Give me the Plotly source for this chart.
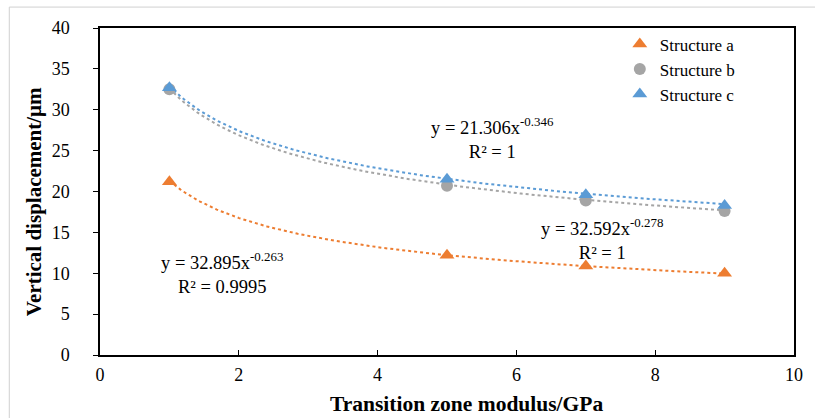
import numpy as np
import plotly.graph_objects as go

# Data
x_vals = [1, 5, 7, 9]
series_names = ["Structure a", "Structure b", "Structure c"]
struct_a = [21.2, 12.2, 10.9, 10.0]
struct_b = [32.5, 20.7, 18.9, 17.6]
struct_c = [32.7, 21.5, 19.6, 18.3]
# power-law trendline coefficients (y = A * x^B), as printed on chart
coef_a = [21.306, -0.346]
coef_b = [32.592, -0.278]
coef_c = [32.895, -0.263]
r2_a, r2_b, r2_c = "1", "1", "0.9995"

colors = {"a": "#ED7D31", "b": "#A5A5A5", "c": "#5B9BD5"}
FONT = "Liberation Serif"

fig = go.Figure()

xs = np.linspace(min(x_vals), max(x_vals), 200)
for coef, col in [(coef_b, colors["b"]), (coef_c, colors["c"]), (coef_a, colors["a"])]:
    fig.add_trace(go.Scatter(x=xs, y=coef[0] * xs ** coef[1], mode="lines",
                             line=dict(color=col, width=2, dash="dot"),
                             showlegend=False, hoverinfo="skip"))

fig.add_trace(go.Scatter(x=x_vals, y=struct_a, mode="markers", name=series_names[0],
                         marker=dict(symbol="triangle-up", size=13, color=colors["a"])))
fig.add_trace(go.Scatter(x=x_vals, y=struct_b, mode="markers", name=series_names[1],
                         marker=dict(symbol="circle", size=12, color=colors["b"])))
fig.add_trace(go.Scatter(x=x_vals, y=struct_c, mode="markers", name=series_names[2],
                         marker=dict(symbol="triangle-up", size=13, color=colors["c"])))

def eq(coef, r2):
    return f"y = {coef[0]:.3f}x<sup>{coef[1]}</sup><br>R² = {r2}"

ann_font = dict(family=FONT, size=18.5, color="black")
annotations = [
    dict(x=5.65, y=26.6, text=eq(coef_a, r2_a)),
    dict(x=7.24, y=14.15, text=eq(coef_b, r2_b)),
    dict(x=1.76, y=10.06, text=eq(coef_c, r2_c)),
]
for a in annotations:
    fig.add_annotation(x=a["x"], y=a["y"], text=a["text"], showarrow=False,
                       font=ann_font, align="center", xanchor="center", yanchor="middle")

# axis titles as annotations (positioned like the reference)
fig.add_annotation(x=-0.0948, y=0.468, xref="paper", yref="paper",
                   text="<b>Vertical displacement/μm</b>", textangle=-90, showarrow=False,
                   font=dict(family=FONT, size=21, color="black"),
                   xanchor="center", yanchor="middle")
fig.add_annotation(x=0.5287, y=-0.149, xref="paper", yref="paper",
                   text="<b>Transition zone modulus/GPa</b>", showarrow=False,
                   font=dict(family=FONT, size=21.5, color="black"),
                   xanchor="center", yanchor="middle")

# outer light gray frame (top and left edges visible)
fig.add_shape(type="line", xref="paper", yref="paper", x0=-0.1307, x1=1.1, y0=1.064, y1=1.064,
              line=dict(color="#D0D0D0", width=1))
fig.add_shape(type="line", xref="paper", yref="paper", x0=-0.1307, x1=-0.1307, y0=-0.25, y1=1.064,
              line=dict(color="#D0D0D0", width=1))

fig.update_layout(
    width=815, height=418,
    margin=dict(l=100, r=19, t=28, b=63),
    paper_bgcolor="white", plot_bgcolor="white",
    font=dict(family=FONT, size=17, color="black"),
    legend=dict(x=0.749, y=1.005, xanchor="left", yanchor="top",
                font=dict(family=FONT, size=17), bgcolor="rgba(0,0,0,0)",
                itemwidth=30, tracegroupgap=0),
    xaxis=dict(range=[0, 10], dtick=2, showgrid=False, zeroline=False,
               showline=True, linecolor="black", linewidth=1.5, mirror=True,
               ticks="inside", ticklen=5, tickcolor="black", ticklabelstandoff=3,
               tickfont=dict(family=FONT, size=18)),
    yaxis=dict(range=[0, 40], dtick=5, showgrid=False, zeroline=False,
               showline=True, linecolor="black", linewidth=1.5, mirror=True,
               ticks="outside", ticklen=5, tickcolor="black", ticklabelstandoff=20,
               tickfont=dict(family=FONT, size=18)),
)

fig.write_html("out.html")
